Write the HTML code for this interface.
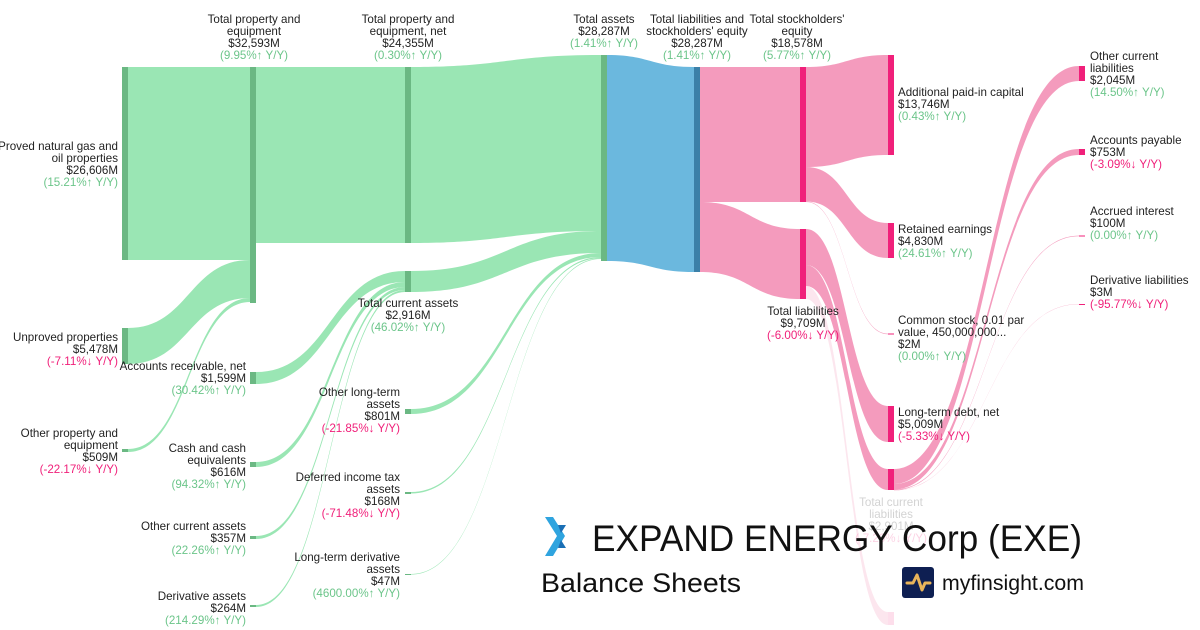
<!DOCTYPE html>
<html><head><meta charset="utf-8">
<style>
html,body{margin:0;padding:0;background:#fff;}
body{width:1200px;height:630px;overflow:hidden;position:relative;font-family:"Liberation Sans",sans-serif;}
svg{position:absolute;left:0;top:0;}
text{font-family:"Liberation Sans",sans-serif;font-size:11.6px;fill:#222;}
.g{fill:#6cc58a;} .r{fill:#f0207a;}
</style></head><body>
<svg id="s" width="1200" height="630" viewBox="0 0 1200 630"></svg>
<script>
var s=document.getElementById('s'),NS='http://www.w3.org/2000/svg';
function el(n,a,t){var e=document.createElementNS(NS,n);for(var k in a)e.setAttribute(k,a[k]);if(t!=null)e.textContent=t;s.appendChild(e);return e;}
function flow(x0,a0,b0,x1,a1,b1,c,op){var m=(x0+x1)/2;
 var d='M'+x0+','+a0+' C'+m+','+a0+' '+m+','+a1+' '+x1+','+a1+' L'+x1+','+b1+' C'+m+','+b1+' '+m+','+b0+' '+x0+','+b0+' Z';
 el('path',{d:d,fill:c,'fill-opacity':op==null?1:op});}
var G='#9ae6b4',GB='#6bb883',B='#6bb8de',BB='#3b80a8',P='#f49bbd',PB='#f0207a';
flow(128,67,260,250,67,260,G);
flow(128,328,364,250,260,298,G);
flow(128,449,452,250,298,302,G);
flow(256,67,243,405,67,243,G);
flow(256,372,384,405,271,282,G);
flow(256,462,467,405,282,287,G);
flow(256,536,539,405,287,290,G);
flow(256,605,607,405,290,292,G);
flow(411,67,243,601,55,231,G);
flow(411,271,292,601,231,253,G);
flow(411,409,414,601,253,257,G);
flow(411,492,493.5,601,257,258.3,G);
flow(411,574,574.6,601,258.3,259,G);
flow(607,55,261,694,67,272,B);
flow(700,67,202,800,67,202,P);
flow(700,202,272,800,229,299,P);
flow(806,67,167,888,55,155,P);
flow(806,167,201.5,888,223,258,P);
flow(806,201.5,202,888,333.6,334.2,P);
flow(806,229,265,888,406,442,P);
flow(806,265,286,888,469,490,P);
flow(806,286,299,888,612,625,P,0.25);
flow(894,469,484,1079,66,81,P);
flow(894,484,489.5,1079,149,155,P);
flow(894,489.5,490.2,1079,235.6,236.3,P);
flow(894,490.2,490.4,1079,304,304.3,P);
function bar(x,y0,y1,c,op){el('rect',{x:x,y:y0,width:6,height:Math.max(y1-y0,1),fill:c,'fill-opacity':op==null?1:op});}
bar(122,67,260,GB);bar(122,328,364,GB);bar(122,449,452,GB);
bar(250,67,303,GB);bar(250,372,384,GB);bar(250,462,467,GB);bar(250,536,539,GB);bar(250,605,607,GB);
bar(405,67,243,GB);bar(405,271,292,GB);bar(405,409,414,GB);bar(405,492,494,GB);bar(405,574,575,GB);
bar(601,55,261,GB);bar(694,67,272,BB);
bar(800,67,202,PB);bar(800,229,299,PB);
bar(888,55,155,PB);bar(888,223,258,PB);bar(888,333.5,334.5,PB);bar(888,406,442,PB);bar(888,469,490,PB);bar(888,612,625,PB,0.15);
bar(1079,66,81,PB);bar(1079,149,155,PB);bar(1079,235.5,236.5,PB);bar(1079,304,305,PB);
function lab(x,y,anc,lines,op){var t=el('text',{x:x,y:y,'text-anchor':anc});if(op)t.setAttribute('opacity',op);
 lines.forEach(function(l,i){var sp=document.createElementNS(NS,'tspan');sp.setAttribute('x',x);sp.setAttribute('dy',i?12:0);
 var c=null;if(l[0]=='('){c=l.indexOf('↓')>0?'r':'g';}sp.textContent=l;if(c)sp.setAttribute('class',c);t.appendChild(sp);});}
lab(254,23,'middle',['Total property and','equipment','$32,593M','(9.95%↑ Y/Y)']);
lab(408,23,'middle',['Total property and','equipment, net','$24,355M','(0.30%↑ Y/Y)']);
lab(604,23,'middle',['Total assets','$28,287M','(1.41%↑ Y/Y)']);
lab(697,23,'middle',['Total liabilities and','stockholders\' equity','$28,287M','(1.41%↑ Y/Y)']);
lab(797,23,'middle',['Total stockholders\'','equity','$18,578M','(5.77%↑ Y/Y)']);
lab(118,150,'end',['Proved natural gas and','oil properties','$26,606M','(15.21%↑ Y/Y)']);
lab(118,341,'end',['Unproved properties','$5,478M','(-7.11%↓ Y/Y)']);
lab(118,437,'end',['Other property and','equipment','$509M','(-22.17%↓ Y/Y)']);
lab(246,370,'end',['Accounts receivable, net','$1,599M','(30.42%↑ Y/Y)']);
lab(246,452,'end',['Cash and cash','equivalents','$616M','(94.32%↑ Y/Y)']);
lab(246,530,'end',['Other current assets','$357M','(22.26%↑ Y/Y)']);
lab(246,600,'end',['Derivative assets','$264M','(214.29%↑ Y/Y)']);
lab(408,307,'middle',['Total current assets','$2,916M','(46.02%↑ Y/Y)']);
lab(400,396,'end',['Other long-term','assets','$801M','(-21.85%↓ Y/Y)']);
lab(400,481,'end',['Deferred income tax','assets','$168M','(-71.48%↓ Y/Y)']);
lab(400,561,'end',['Long-term derivative','assets','$47M','(4600.00%↑ Y/Y)']);
lab(803,315,'middle',['Total liabilities','$9,709M','(-6.00%↓ Y/Y)']);
lab(898,96,'start',['Additional paid-in capital','$13,746M','(0.43%↑ Y/Y)']);
lab(898,233,'start',['Retained earnings','$4,830M','(24.61%↑ Y/Y)']);
lab(898,324,'start',['Common stock, 0.01 par','value, 450,000,000...','$2M','(0.00%↑ Y/Y)']);
lab(898,416,'start',['Long-term debt, net','$5,009M','(-5.33%↓ Y/Y)']);
lab(891,506,'middle',['Total current','liabilities','$2,901M','(-7.20%↓ Y/Y)'],0.2);
lab(1090,60,'start',['Other current','liabilities','$2,045M','(14.50%↑ Y/Y)']);
lab(1090,144,'start',['Accounts payable','$753M','(-3.09%↓ Y/Y)']);
lab(1090,215,'start',['Accrued interest','$100M','(0.00%↑ Y/Y)']);
lab(1090,284,'start',['Derivative liabilities','$3M','(-95.77%↓ Y/Y)']);
el('polygon',{points:'545,517 553,517 565,536 553,556 545,556 557,536',fill:'#2fa4df'});
el('polygon',{points:'558,525 566,525 561,533',fill:'#1a6fb5'});
el('polygon',{points:'561,540 566,548 558,548',fill:'#1a6fb5'});
el('text',{x:592,y:551,textLength:490,lengthAdjust:'spacingAndGlyphs',style:'font-size:37px;fill:#111'},'EXPAND ENERGY Corp (EXE)');
el('text',{x:541,y:592,textLength:200,lengthAdjust:'spacingAndGlyphs',style:'font-size:27px;fill:#111'},'Balance Sheets');
el('rect',{x:902,y:567,width:32,height:31,rx:3,fill:'#0e1f52'});
el('polyline',{points:'907,583 913,583 917,575 922,590 925,583 930,583',fill:'none',stroke:'#e8b45a','stroke-width':3,'stroke-linejoin':'round','stroke-linecap':'round'});
el('text',{x:942,y:590,textLength:142,lengthAdjust:'spacingAndGlyphs',style:'font-size:21px;fill:#111'},'myfinsight.com');
</script>
</body></html>
